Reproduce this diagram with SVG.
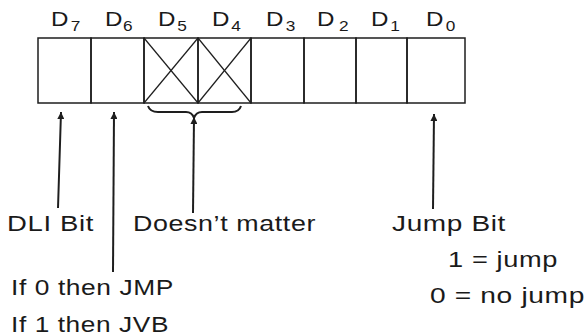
<svg xmlns="http://www.w3.org/2000/svg" width="585" height="336" viewBox="0 0 585 336">
<style>
.cell{fill:none;stroke:#1e1e1e;stroke-width:1.5}
.x{stroke:#1e1e1e;stroke-width:1.2}
.lbl{font-family:"Liberation Sans",Arial,sans-serif;font-size:21px;fill:#1a1a1a}
.sub{font-size:15px}
.txt{font-family:"Liberation Sans",Arial,sans-serif;font-size:22px;letter-spacing:0.5px;fill:#1a1a1a}
.conn{stroke:#1e1e1e;stroke-width:2;fill:none}
</style>
<defs>
<marker id="ah" viewBox="0 0 10 10" refX="10" refY="5" markerWidth="12" markerHeight="7" markerUnits="userSpaceOnUse" orient="auto">
<path d="M0,0 L10,5 L0,10 Z" fill="#1e1e1e"/>
</marker>
</defs>
<rect width="585" height="336" fill="#ffffff"/>
<g id="register">
<rect class="cell" x="38" y="38" width="53" height="65"/>
<rect class="cell" x="91" y="38" width="53" height="65"/>
<rect class="cell" x="144" y="38" width="54" height="65"/>
<rect class="cell" x="198" y="38" width="53" height="65"/>
<rect class="cell" x="251" y="38" width="53" height="65"/>
<rect class="cell" x="304" y="38" width="52" height="65"/>
<rect class="cell" x="356" y="38" width="51" height="65"/>
<rect class="cell" x="407" y="38" width="58" height="65"/>
<line class="x" x1="144" y1="38" x2="198" y2="103"/>
<line class="x" x1="198" y1="38" x2="144" y2="103"/>
<line class="x" x1="198" y1="38" x2="251" y2="103"/>
<line class="x" x1="251" y1="38" x2="198" y2="103"/>
</g>
<g id="bit-labels">
<text class="lbl" transform="translate(51,26) scale(1.15,1)">D<tspan class="sub" dy="5" dx="2">7</tspan></text>
<text class="lbl" transform="translate(105,26) scale(1.15,1)">D<tspan class="sub" dy="5" dx="0.5">6</tspan></text>
<text class="lbl" transform="translate(158,26) scale(1.15,1)">D<tspan class="sub" dy="5" dx="1.5">5</tspan></text>
<text class="lbl" transform="translate(212,26) scale(1.15,1)">D<tspan class="sub" dy="5" dx="1.5">4</tspan></text>
<text class="lbl" transform="translate(266,26) scale(1.15,1)">D<tspan class="sub" dy="5" dx="2">3</tspan></text>
<text class="lbl" transform="translate(317,26) scale(1.15,1)">D<tspan class="sub" dy="5" dx="4">2</tspan></text>
<text class="lbl" transform="translate(371,26) scale(1.15,1)">D<tspan class="sub" dy="5" dx="1.5">1</tspan></text>
<text class="lbl" transform="translate(426,26) scale(1.15,1)">D<tspan class="sub" dy="5" dx="2">0</tspan></text>
</g>
<g id="brace">
<path class="conn" stroke-width="1.6" d="M148,106 Q150,112 158,112 L186,112 Q192,112 194,118 Q196,112 202,112 L232,112 Q239,112 241,106"/>
</g>
<g id="connectors">
<line class="conn" x1="58" y1="208" x2="61" y2="112" marker-end="url(#ah)"/>
<line class="conn" x1="113" y1="272" x2="114" y2="112" marker-end="url(#ah)"/>
<line class="conn" x1="193" y1="213" x2="194" y2="117" marker-end="url(#ah)"/>
<line class="conn" x1="433" y1="209" x2="434" y2="114" marker-end="url(#ah)"/>
</g>
<g id="dli">
<text class="txt" x="7" y="231" textLength="87" lengthAdjust="spacingAndGlyphs">DLI Bit</text>
</g>
<g id="dontcare">
<text class="txt" x="133" y="231" textLength="183" lengthAdjust="spacingAndGlyphs">Doesn’t matter</text>
</g>
<g id="jump">
<text class="txt" x="392" y="231" textLength="114" lengthAdjust="spacingAndGlyphs">Jump Bit</text>
<text class="txt" x="448" y="267" textLength="110" lengthAdjust="spacingAndGlyphs">1 = jump</text>
<text class="txt" x="430" y="303" textLength="155" lengthAdjust="spacingAndGlyphs">0 = no jump</text>
</g>
<g id="mode">
<text class="txt" x="11" y="295" textLength="163" lengthAdjust="spacingAndGlyphs">If 0 then JMP</text>
<text class="txt" x="11" y="332" textLength="158" lengthAdjust="spacingAndGlyphs">If 1 then JVB</text>
</g>
</svg>
